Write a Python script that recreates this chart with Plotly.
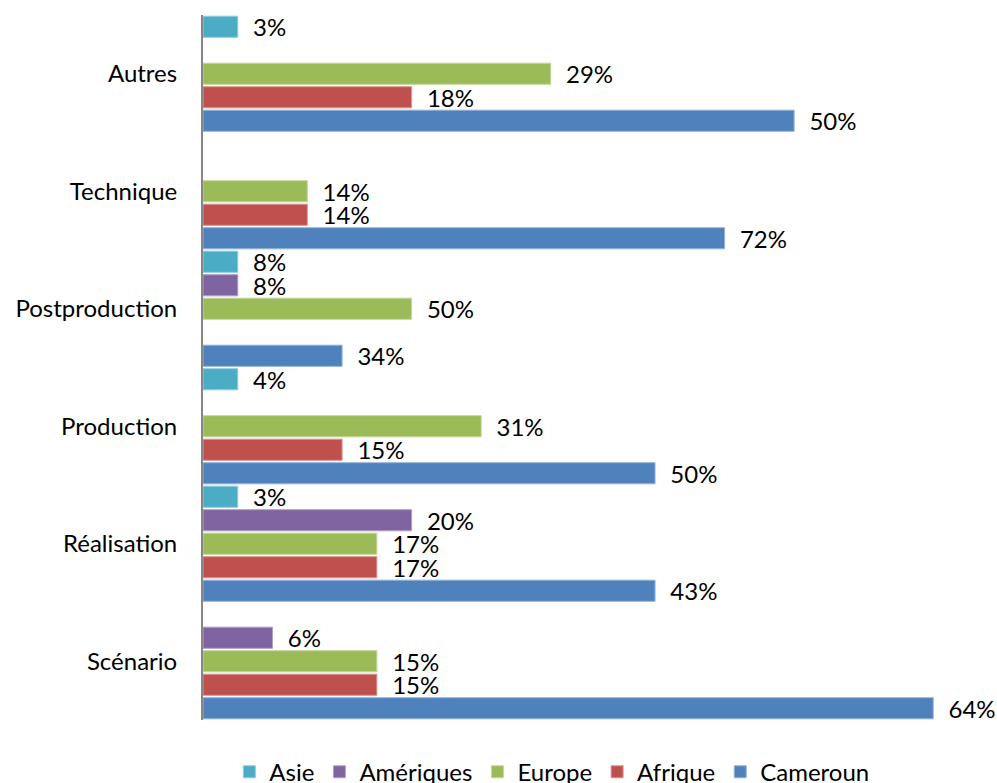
import plotly.graph_objects as go

categories = ["Scénario", "Réalisation", "Production", "Postproduction", "Technique", "Autres"]
series_names = ["Cameroun", "Afrique", "Europe", "Amériques", "Asie"]
colors = ["#4F81BD", "#C0504D", "#9BBB59", "#8064A2", "#4BACC6"]
edge_colors = ["#95B3D7", "#DA9694", "#C4D79B", "#B1A0C7", "#92CDDC"]

# bar lengths (counts) per series, in category order
cameroun = [21, 13, 13, 4, 15, 17]
afrique = [5, 5, 4, None, 3, 6]
europe = [5, 5, 8, 6, 3, 10]
ameriques = [2, 6, None, 1, None, None]
asie = [None, 1, 1, 1, None, 1]

# percentage labels shown on the bars
cameroun_lbl = ["64%", "43%", "50%", "34%", "72%", "50%"]
afrique_lbl = ["15%", "17%", "15%", "", "14%", "18%"]
europe_lbl = ["15%", "17%", "31%", "50%", "14%", "29%"]
ameriques_lbl = ["6%", "20%", "", "8%", "", ""]
asie_lbl = ["", "3%", "4%", "8%", "", "3%"]

values = [cameroun, afrique, europe, ameriques, asie]
labels = [cameroun_lbl, afrique_lbl, europe_lbl, ameriques_lbl, asie_lbl]

FONT = "Lato"
FS = 24
pad = "\u00a0\u00a0"

fig = go.Figure()
for name, vals, lbls, col, edge in zip(series_names, values, labels, colors, edge_colors):
    fig.add_trace(go.Bar(
        y=categories,
        x=vals,
        name=name,
        orientation="h",
        marker=dict(color=col, line=dict(color=edge, width=1)),
        text=[(pad + t) if t else "" for t in lbls],
        textposition="outside",
        constraintext="none",
        cliponaxis=False,
        textfont=dict(family=FONT, size=FS, color="#000000"),
        hoverinfo="x+y+name",
    ))

fig.update_layout(
    width=997,
    height=783,
    barmode="group",
    bargap=0.0,
    bargroupgap=0.1,
    plot_bgcolor="white",
    paper_bgcolor="white",
    margin=dict(l=203, r=29, t=15, b=63, autoexpand=False),
    font=dict(family=FONT, size=FS, color="#000000"),
    showlegend=True,
    legend=dict(
        orientation="h",
        traceorder="reversed",
        x=0.456,
        xanchor="center",
        y=-0.074,
        yanchor="middle",
        font=dict(family=FONT, size=FS, color="#000000"),
        itemwidth=30,
    ),
    xaxis=dict(
        range=[0, 22],
        visible=False,
        showgrid=False,
        zeroline=False,
    ),
    yaxis=dict(
        type="category",
        categoryorder="array",
        categoryarray=categories,
        showline=True,
        linecolor="#868686",
        linewidth=2,
        ticks="",
        showgrid=False,
        ticklabelstandoff=19,
        tickfont=dict(family=FONT, size=FS, color="#000000"),
    ),
)

fig.write_html(
    "out.html",
    config={"displayModeBar": False},
    post_script="document.body.style.margin='0';document.body.style.overflow='hidden';",
)
